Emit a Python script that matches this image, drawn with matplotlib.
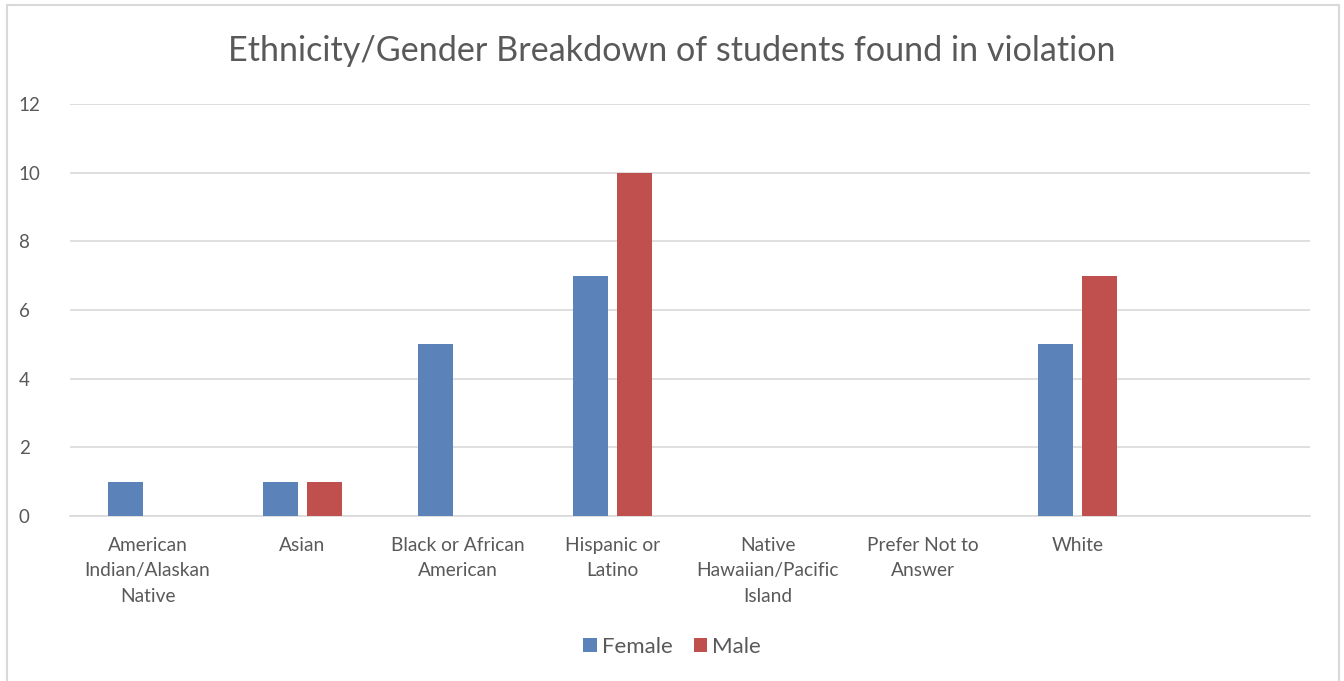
import numpy as np
import matplotlib.pyplot as plt
from matplotlib.patches import Rectangle

# Data
categories = ["American\nIndian/Alaskan\nNative", "Asian", "Black or African\nAmerican",
              "Hispanic or\nLatino", "Native\nHawaiian/Pacific\nIsland", "Prefer Not to\nAnswer",
              "White", ""]
female = [1, 1, 5, 7, 0, 0, 5, 0]
male = [0, 1, 0, 10, 0, 0, 7, 0]

plt.rcParams['font.family'] = ['Lato', 'DejaVu Sans']
text_color = '#595959'
grid_color = '#D9D9D9'

fig = plt.figure(figsize=(13.44, 6.81), dpi=100)
fig.patches.append(Rectangle((7 / 1344, -0.01), 1332 / 1344, 1.0 - 5 / 681 + 0.01,
                             transform=fig.transFigure, fill=False,
                             edgecolor='#D9D9D9', linewidth=1.5))

ax = fig.add_axes([70 / 1344, 1 - 516 / 681, 1240 / 1344, 412 / 681])

x = np.arange(len(categories))
w = 0.226
off = 0.142
ax.bar(x - off, female, width=w, color='#5B83B9', label='Female', zorder=3)
ax.bar(x + off, male, width=w, color='#C0504D', label='Male', zorder=3)

ax.set_xlim(-0.5, len(categories) - 0.5)
ax.set_ylim(0, 12)
ax.set_yticks(np.arange(0, 13, 2))
ax.yaxis.grid(True, color=grid_color, linewidth=1.2, zorder=0)
ax.set_xticks(x)
ax.set_xticklabels(categories, fontsize=13.8, color=text_color, linespacing=1.6)
ax.tick_params(axis='y', length=0, labelsize=13.5, colors=text_color, pad=37)
ax.tick_params(axis='x', length=0, colors=text_color, pad=15)
for lbl in ax.get_yticklabels():
    lbl.set_horizontalalignment('left')
for s in ['top', 'right', 'left']:
    ax.spines[s].set_visible(False)
ax.spines['bottom'].set_color(grid_color)
ax.spines['bottom'].set_linewidth(1.2)

fig.text(0.5, 1 - 51 / 681, "Ethnicity/Gender Breakdown of students found in violation",
         ha='center', va='center', fontsize=24.6, color=text_color)

fig.legend(loc='center', bbox_to_anchor=(0.5, 1 - 647 / 681), ncol=2, frameon=False,
           fontsize=16, labelcolor=text_color, handlelength=0.62, handleheight=0.62,
           handletextpad=0.2, columnspacing=0.95)

fig.savefig('out.png', dpi=100)
